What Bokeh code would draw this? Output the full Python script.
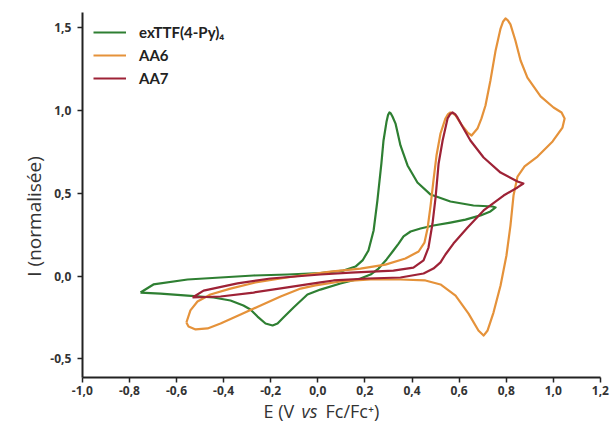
import math
from bokeh.plotting import figure
from bokeh.models import (Legend, LegendItem, FixedTicker, CustomJSTickFormatter, Label, Range1d)
from bokeh.embed import file_html
from bokeh.resources import INLINE

# ---- data (E in V vs Fc/Fc+, normalised current) ----
green_E = [-0.753, -0.698, -0.553, -0.413, -0.273, -0.129, 0.011, 0.109, 0.160, 0.190, 0.215, 0.237,
           0.253, 0.270, 0.279, 0.292, 0.298, 0.304, 0.310, 0.317, 0.330, 0.351, 0.381, 0.423, 0.479,
           0.563, 0.661, 0.742, 0.755, 0.733, 0.691, 0.627, 0.563, 0.491, 0.436, 0.394, 0.364, 0.343,
           0.321, 0.292, 0.258, 0.224, 0.181, 0.096, 0.011, -0.044, -0.103, -0.146, -0.171, -0.192,
           -0.222, -0.256, -0.286, -0.316, -0.371, -0.443, -0.553, -0.668, -0.753]
green_I = [-0.100, -0.051, -0.021, -0.009, 0.003, 0.009, 0.018, 0.033, 0.057, 0.094, 0.154, 0.275,
           0.456, 0.680, 0.819, 0.934, 0.972, 0.988, 0.982, 0.964, 0.921, 0.789, 0.668, 0.565, 0.492,
           0.450, 0.426, 0.420, 0.414, 0.390, 0.366, 0.341, 0.323, 0.305, 0.287, 0.269, 0.239, 0.196,
           0.154, 0.100, 0.045, 0.009, -0.015, -0.045, -0.082, -0.112, -0.190, -0.251, -0.287, -0.299,
           -0.287, -0.245, -0.202, -0.178, -0.148, -0.130, -0.118, -0.106, -0.100]

aa6_E = [-0.558, -0.541, -0.511, -0.456, -0.371, -0.265, -0.158, -0.073, 0.054, 0.181, 0.287, 0.372,
         0.428, 0.453, 0.466, 0.479, 0.491, 0.504, 0.521, 0.542, 0.553, 0.563, 0.574, 0.585, 0.610,
         0.636, 0.653, 0.678, 0.695, 0.712, 0.733, 0.755, 0.776, 0.787, 0.797, 0.807, 0.818, 0.839,
         0.861, 0.890, 0.946, 1.001, 1.035, 1.048, 1.039, 0.997, 0.933, 0.878, 0.848, 0.831, 0.818,
         0.801, 0.776, 0.746, 0.721, 0.704, 0.682, 0.640, 0.585, 0.521, 0.457, 0.351, 0.224, 0.096,
         -0.010, -0.073, -0.158, -0.243, -0.328, -0.413, -0.468, -0.519, -0.549, -0.558]
aa6_I = [-0.281, -0.208, -0.154, -0.112, -0.076, -0.039, -0.015, 0.003, 0.027, 0.045, 0.069, 0.106,
         0.148, 0.202, 0.287, 0.426, 0.577, 0.728, 0.861, 0.952, 0.978, 0.988, 0.982, 0.970, 0.915,
         0.867, 0.849, 0.891, 0.952, 1.030, 1.181, 1.363, 1.495, 1.538, 1.556, 1.545, 1.520, 1.423,
         1.302, 1.199, 1.085, 1.018, 0.988, 0.952, 0.897, 0.813, 0.722, 0.662, 0.601, 0.486, 0.305,
         0.124, -0.057, -0.221, -0.329, -0.360, -0.329, -0.227, -0.118, -0.051, -0.027, -0.021,
         -0.021, -0.033, -0.057, -0.076, -0.124, -0.178, -0.233, -0.287, -0.317, -0.323, -0.305,
         -0.281]

aa7_E = [-0.532, -0.485, -0.341, -0.201, 0.011, 0.139, 0.321, 0.406, 0.449, 0.470, 0.487, 0.500,
         0.513, 0.530, 0.551, 0.562, 0.572, 0.583, 0.593, 0.614, 0.648, 0.704, 0.776, 0.848, 0.873,
         0.848, 0.789, 0.704, 0.636, 0.576, 0.542, 0.521, 0.491, 0.449, 0.351, 0.211, 0.067, 0.011,
         -0.129, -0.273, -0.413, -0.532]
aa7_I = [-0.130, -0.088, -0.045, -0.015, 0.009, 0.021, 0.033, 0.051, 0.094, 0.172, 0.317, 0.474,
         0.680, 0.819, 0.952, 0.978, 0.988, 0.978, 0.958, 0.903, 0.819, 0.716, 0.625, 0.571, 0.559,
         0.535, 0.486, 0.396, 0.293, 0.196, 0.130, 0.082, 0.045, 0.015, -0.009, -0.015, -0.027,
         -0.039, -0.069, -0.100, -0.124, -0.130]

series_names = ["exTTF(4-Py)\u2084", "AA6", "AA7"]
series_colors = ["#2e7f32", "#e5923a", "#9e2236"]

x_ticks = [-1.0, -0.8, -0.6, -0.4, -0.2, 0.0, 0.2, 0.4, 0.6, 0.8, 1.0, 1.2]
y_ticks = [-0.5, 0.0, 0.5, 1.0, 1.5]
x_axis_span = (-1.0, 1.2)
y_axis_span = (-0.613, 1.592)

FONT = "Open Sans"
TXT = "#333333"

# the frame covers the whole canvas; axes are placed at fixed data positions
p = figure(width=613, height=434, output_backend="svg", toolbar_location=None,
           x_range=Range1d(-1.3474, 1.2556), y_range=Range1d(-0.9577, 1.6647),
           min_border=0)
p.outline_line_color = None
p.grid.visible = False
p.background_fill_color = "white"
p.border_fill_color = "white"

fmt = CustomJSTickFormatter(code="var t = Math.abs(tick) < 1e-9 ? 0 : tick; return t.toFixed(1).replace('.', ',');")
for ax, ticks in ((p.xaxis[0], x_ticks), (p.yaxis[0], y_ticks)):
    ax.ticker = FixedTicker(ticks=ticks)
    ax.formatter = fmt
    ax.minor_tick_line_color = None
    ax.major_tick_in = 0
    ax.major_tick_out = 5
    ax.major_tick_line_color = "#222222"
    ax.major_tick_line_width = 1.5
    ax.axis_line_color = "#222222"
    ax.axis_line_width = 2
    ax.major_label_text_font = FONT
    ax.major_label_text_font_style = "bold"
    ax.major_label_text_font_size = "12px"
    ax.major_label_text_color = TXT

p.xaxis[0].fixed_location = y_axis_span[0]
p.xaxis[0].bounds = x_axis_span
p.yaxis[0].fixed_location = x_axis_span[0]
p.yaxis[0].bounds = y_axis_span
p.yaxis[0].major_label_standoff = 6
p.xaxis[0].major_label_standoff = 4

renderers = []
for E, I, col in ((green_E, green_I, series_colors[0]), (aa6_E, aa6_I, series_colors[1]),
                  (aa7_E, aa7_I, series_colors[2])):
    renderers.append(p.line(E, I, line_color=col, line_width=2.2, line_join="round"))

legend = Legend(items=[LegendItem(label=n, renderers=[r]) for n, r in zip(series_names, renderers)],
                location=(93, 346), border_line_color=None, background_fill_alpha=0,
                padding=4, spacing=3, margin=0, glyph_width=33, glyph_height=20, label_height=20,
                label_standoff=13, label_text_font="Lato", label_text_font_style="bold",
                label_text_font_size="15px", label_text_color="#222222")
p.add_layout(legend)

# axis titles
p.add_layout(Label(x=-1.207, y=0.36, text="I (normalisée)", angle=math.pi / 2,
                   text_font=FONT, text_font_size="19px", text_color=TXT,
                   text_align="center", text_baseline="middle"))
title_y = -0.8127
parts = [("E (V", "normal", -0.2306), ("vs", "italic", -0.0692), ("Fc/Fc\u207a)", "normal", 0.0327)]
for txt, style, xpos in parts:
    p.add_layout(Label(x=xpos, y=title_y, text=txt, text_font=FONT, text_font_style=style,
                       text_font_size="18px", text_color=TXT, text_baseline="middle",
                       text_align="left"))

html = file_html(p, INLINE)
open("out.html", "w").write(html)
